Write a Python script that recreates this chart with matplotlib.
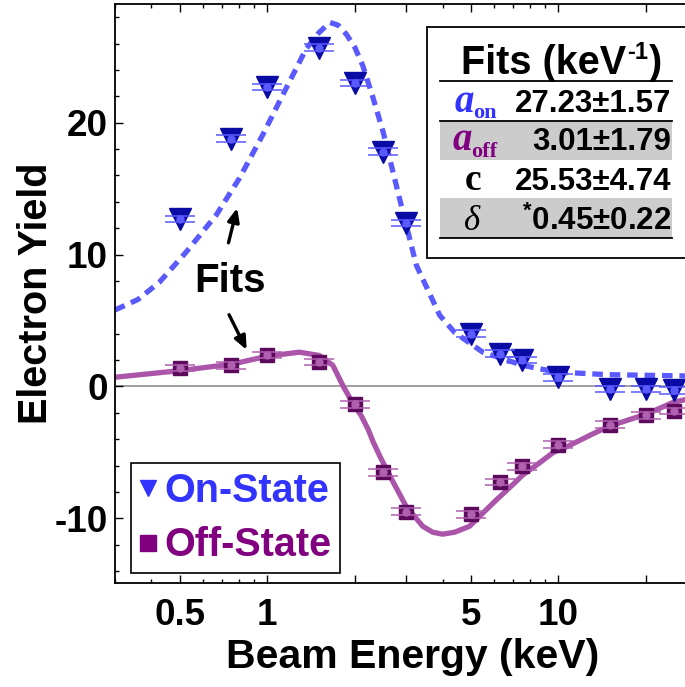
import matplotlib
matplotlib.use("Agg")
import matplotlib.pyplot as plt
from matplotlib.lines import Line2D
from matplotlib.patches import Rectangle
from matplotlib.ticker import FixedLocator, FixedFormatter, NullFormatter

plt.rcParams['font.family'] = ['Liberation Sans', 'DejaVu Sans']
plt.rcParams['font.weight'] = 'bold'
plt.rcParams['axes.labelweight'] = 'bold'
plt.rcParams['axes.unicode_minus'] = False
plt.rcParams['mathtext.fontset'] = 'custom'
plt.rcParams['mathtext.rm'] = 'Liberation Sans:bold'
plt.rcParams['mathtext.bf'] = 'Liberation Sans:bold'

# ---------------- data ----------------
on_x = [0.5, 0.75, 1.0, 1.5, 2.0, 2.5, 3.0, 5.0, 6.3, 7.5, 10, 15, 20, 25]
on_y = [12.7, 18.8, 22.7, 25.7, 23.0, 17.8, 12.4, 4.0, 2.5, 2.0, 0.7, -0.2, -0.2, -0.3]
off_x = [0.5, 0.75, 1.0, 1.5, 2.0, 2.5, 3.0, 5.0, 6.3, 7.5, 10, 15, 20, 25]
off_y = [1.4, 1.6, 2.4, 1.85, -1.35, -6.5, -9.5, -9.7, -7.25, -6.05, -4.4, -2.9, -2.2, -1.85]
y_err = 0.25

on_fit_x = [0.30, 0.36, 0.426, 0.527, 0.668, 0.803, 0.966, 1.13, 1.36, 1.5, 1.64, 1.75,
            1.87, 2.0, 2.13, 2.3, 2.50, 2.85, 3.25, 3.91, 4.4, 5.1, 5.5, 7.55, 9.8, 14.6, 27.2]
on_fit_y = [5.8, 6.6, 7.9, 10.2, 13.0, 15.8, 19.1, 22.1, 25.6, 26.8, 27.6, 27.4,
            26.7, 25.7, 24.3, 22.0, 19.3, 14.2, 9.2, 5.4, 4.1, 3.1, 2.6, 1.6, 1.1, 0.9, 0.8]

off_fit_x = [0.30, 0.50, 0.76, 1.00, 1.29, 1.51, 1.68, 1.82, 1.97, 2.1, 2.22, 2.31, 2.45,
             2.64, 3.00, 3.42, 3.7, 4.00, 4.4, 4.95, 5.5, 6.12, 7.0, 7.55, 8.6, 9.6, 10.6,
             11.8, 13.1, 15.0, 20.0, 24.8, 27.2]
off_fit_y = [0.7, 1.2, 1.7, 2.3, 2.6, 2.35, 1.6, 0.05, -1.3, -2.2, -3.25, -4.2, -5.4,
             -6.8, -9.1, -10.6, -11.05, -11.2, -11.05, -10.6, -9.6, -8.6, -7.4, -6.7, -5.8,
             -5.0, -4.6, -4.1, -3.6, -3.0, -2.1, -1.2, -1.0]

x_major = [0.5, 1, 2, 3, 5, 10, 20]
x_major_labels = ['0.5', '1', '', '', '5', '10', '']
x_minor = [0.3, 0.4, 0.6, 0.7, 0.8, 0.9, 4, 6, 7, 8, 9]
y_major = [-10, 0, 10, 20]
y_minor = list(range(-14, 30, 2))

table_values = ['27.23±1.57', '3.01±1.79', '25.53±4.74', r'$^{*}$0.45±0.22']

# colors
c_on_fit = '#5a5aff'
c_on_mark = '#0a0aa5'
c_on_light = '#5a5aff'
c_off_fit = '#aa55aa'
c_off_mark = '#5c0a5c'
c_off_light = '#b060b0'

W, H = 685, 687
fig = plt.figure(figsize=(W / 100, H / 100), dpi=100)
ax = fig.add_axes([115 / W, 1 - 583 / H, 1 - 115 / W, (583 - 4) / H])

ax.set_xscale('log')
ax.set_xlim(0.3, 27.2)
ax.set_ylim(-14.9, 29.0)

ax.axhline(0, color='#999999', lw=1.3, zorder=1)

ax.plot(on_fit_x, on_fit_y, color=c_on_fit, lw=3.8, dashes=(2.0, 1.3), zorder=2)
ax.plot(off_fit_x, off_fit_y, color=c_off_fit, lw=3.8, zorder=2, solid_joinstyle='round')

# on-state markers
ax.plot(on_x, on_y, ls='none', marker='v', ms=16.5, color=c_on_mark, mec=c_on_mark, zorder=3)
ax.errorbar(on_x, on_y, yerr=y_err, fmt='none', ecolor=c_on_light, elinewidth=1.0,
            capsize=11, capthick=1.1, zorder=4)
ax.plot(on_x, on_y, ls='none', marker='o', ms=5, color=c_on_light, mec=c_on_light, zorder=5)

# off-state markers
ax.plot(off_x, off_y, ls='none', marker='s', ms=10.5, color=c_off_mark, mec=c_off_mark, zorder=3)
ax.errorbar(off_x, off_y, yerr=y_err, fmt='none', ecolor=c_off_light, elinewidth=1.0,
            capsize=11, capthick=1.1, zorder=4)
ax.plot(off_x, off_y, ls='none', marker='o', ms=5, color=c_off_light, mec=c_off_light, zorder=5)

# ticks
ax.xaxis.set_major_locator(FixedLocator(x_major))
ax.xaxis.set_major_formatter(FixedFormatter(x_major_labels))
ax.xaxis.set_minor_locator(FixedLocator(x_minor))
ax.xaxis.set_minor_formatter(NullFormatter())
ax.yaxis.set_major_locator(FixedLocator(y_major))
ax.yaxis.set_minor_locator(FixedLocator(y_minor))
ax.tick_params(which='both', direction='in', top=True, right=False, width=1.0)
ax.tick_params(which='major', length=5.5, labelsize=26.5)
ax.tick_params(which='minor', length=3)
ax.tick_params(axis='x', which='major', pad=11)
ax.tick_params(axis='y', which='major', pad=5)
for lab in ax.get_xticklabels() + ax.get_yticklabels():
    lab.set_fontweight('bold')

for s in ['left', 'bottom', 'top']:
    ax.spines[s].set_linewidth(1.3)
ax.spines['right'].set_visible(False)

ax.set_ylabel('Electron Yield', fontsize=28.5, fontweight='bold', labelpad=-0.5)
fig.text(413 / W, 1 - 657 / H, 'Beam Energy (keV)', fontsize=29.5, fontweight='bold',
         ha='center', va='center')

# legend
handles = [Line2D([], [], ls='none', marker='v', ms=12, color='#3333ff'),
           Line2D([], [], ls='none', marker='s', ms=11, color='#800080')]
leg = ax.legend(handles, ['On-State', 'Off-State'], loc='lower left',
                bbox_to_anchor=(0.028, 0.017), borderaxespad=0,
                prop={'weight': 'bold', 'size': 28.5}, handlelength=0.4,
                handletextpad=0.22, labelspacing=0.42, borderpad=0.22,
                frameon=True, fancybox=False, edgecolor='black', framealpha=1)
leg.get_frame().set_linewidth(1.2)
for t, c in zip(leg.get_texts(), ['#3333ff', '#800080']):
    t.set_color(c)

# "Fits" annotation
ax.text(0.742, 8.0, 'Fits', fontsize=29, fontweight='bold', ha='center', va='center')
ax.annotate('', xy=(0.792, 13.73), xytext=(0.732, 10.69),
            arrowprops=dict(arrowstyle='-|>,head_length=0.8,head_width=0.35', lw=2.4, color='black'))
ax.annotate('', xy=(0.858, 2.59), xytext=(0.732, 5.63),
            arrowprops=dict(arrowstyle='-|>,head_length=0.8,head_width=0.35', lw=2.4, color='black'))

# fits table
def fx(x):
    return x / W

def fy(y):
    return 1 - y / H

tf = fig.transFigure
fig.add_artist(Rectangle((fx(427), fy(258)), fx(700) - fx(427), fy(27) - fy(258),
                         transform=tf, facecolor='white', edgecolor='black', lw=1.3, zorder=6))
for y0, y1 in [(120.7, 160), (198.3, 238.3)]:
    fig.add_artist(Rectangle((fx(440), fy(y1)), fx(672) - fx(440), fy(y0) - fy(y1),
                             transform=tf, facecolor='#cccccc', edgecolor='none', zorder=7))
for yl in [80.7, 120.7, 238.3]:
    fig.add_artist(Line2D([fx(440), fx(672)], [fy(yl), fy(yl)], transform=tf,
                          color='black', lw=1.3, zorder=8))

# title built from pieces so the superscript keeps a plain hyphen
renderer = fig.canvas.get_renderer()
title_size = 28.5
p1 = fig.text(0, fy(74), 'Fits (keV', fontsize=title_size, fontweight='bold',
              ha='left', va='baseline', zorder=9)
p2 = fig.text(0, fy(88), '-1', fontsize=title_size * 0.6, fontweight='bold',
              ha='left', va='baseline', zorder=9)
p3 = fig.text(0, fy(74), ')', fontsize=title_size, fontweight='bold',
              ha='left', va='baseline', zorder=9)
w1 = p1.get_window_extent(renderer).width
w2 = p2.get_window_extent(renderer).width
w3 = p3.get_window_extent(renderer).width
x_start = 561.7 - (w1 + w2 + w3 + 2) / 2
p1.set_x(fx(x_start))
p2.set_x(fx(x_start + w1 + 1))
p2.set_y(fy(74 - 15))
p3.set_x(fx(x_start + w1 + w2 + 2))

serif = ['Liberation Serif', 'DejaVu Serif']
baselines = [111.7, 150, 190, 230]
# a_on
fig.text(fx(455), fy(baselines[0]), 'a', family=serif, style='italic', weight='bold',
         fontsize=28, color='#3333ff', ha='left', va='baseline', zorder=9)
fig.text(fx(473), fy(baselines[0] + 6), 'on', family=serif, weight='bold',
         fontsize=16, color='#3333ff', ha='left', va='baseline', zorder=9)
# a_off
fig.text(fx(453), fy(baselines[1]), 'a', family=serif, style='italic', weight='bold',
         fontsize=28, color='#800080', ha='left', va='baseline', zorder=9)
fig.text(fx(471), fy(baselines[1] + 7), 'off', family=serif, weight='bold',
         fontsize=16, color='#800080', ha='left', va='baseline', zorder=9)
# c
fig.text(fx(473), fy(baselines[2]), 'c', family=serif, weight='bold',
         fontsize=27, color='black', ha='center', va='baseline', zorder=9)
# delta
fig.text(fx(472), fy(baselines[3]), 'δ', family=serif, style='italic', weight='normal',
         fontsize=25, color='black', ha='center', va='baseline', zorder=9)

for v, b in zip(table_values, baselines):
    fig.text(fx(671), fy(b), v, fontsize=22.5, fontweight='bold', ha='right',
             va='baseline', zorder=9)

fig.savefig('out.png', dpi=100)
